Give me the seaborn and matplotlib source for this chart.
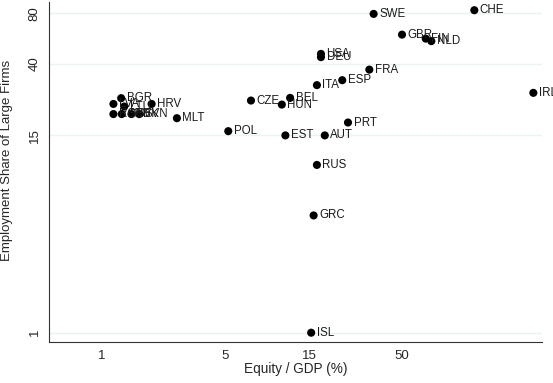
import matplotlib
matplotlib.use("Agg")
import matplotlib.pyplot as plt
import seaborn as sns
import pandas as pd
from matplotlib.ticker import FixedLocator, NullLocator, FixedFormatter

countries = ["SWE", "CHE", "GBR", "FIN", "NLD", "USA", "DEU", "FRA", "ESP", "ITA",
             "IRL", "CZE", "BEL", "HUN", "PRT", "EST", "AUT", "POL", "RUS", "GRC",
             "ISL", "MLT", "HRV", "BGR", "LVA", "LTU", "ROU", "SRB", "SVK", "SVN"]
equity_gdp = [34.8, 129.5, 50.4, 68.7, 73.9, 17.5, 17.5, 32.9, 23.1, 16.6,
              279.8, 7.02, 11.7, 10.5, 24.9, 11.0, 18.4, 5.22, 16.6, 15.9,
              15.4, 2.67, 1.92, 1.29, 1.166, 1.343, 1.166, 1.30, 1.475, 1.634]
large_share = [79.5, 83.6, 59.8, 56.6, 54.7, 45.9, 43.9, 37.0, 32.0, 29.9,
               26.9, 24.2, 25.1, 22.9, 17.9, 15.0, 15.0, 15.9, 10.0, 5.0,
               1.0, 19.0, 23.1, 25.0, 23.1, 22.3, 20.1, 20.1, 20.1, 20.1]

xticks = [1, 5, 15, 50]
yticks = [1, 15, 40, 80]

df = pd.DataFrame({"country": countries, "x": equity_gdp, "y": large_share})

sns.set_style("white")
plt.rcParams["font.family"] = ["Liberation Sans", "DejaVu Sans"]

fig = plt.figure(figsize=(5.53, 3.83), dpi=100)
ax = fig.add_axes([0.0886, 0.107, 0.8914, 0.888])

ax.set_xscale("log")
ax.set_yscale("log")
ax.set_xlim(0.503, 313)
ax.set_ylim(0.88, 93.7)

for t in yticks:
    ax.axhline(t, color="#eaf2f3", lw=1.0, zorder=0)

sns.scatterplot(data=df, x="x", y="y", ax=ax, color="black", s=34,
                edgecolor="none", zorder=3, legend=False)

for c, xv, yv in zip(countries, equity_gdp, large_share):
    ax.annotate(c, (xv, yv), xytext=(4, 0), textcoords="offset points",
                ha="left", va="center", fontsize=8.3, color="#1a1a1a", zorder=4)

ax.xaxis.set_major_locator(FixedLocator(xticks))
ax.xaxis.set_major_formatter(FixedFormatter([str(t) for t in xticks]))
ax.xaxis.set_minor_locator(NullLocator())
ax.yaxis.set_major_locator(FixedLocator(yticks))
ax.yaxis.set_major_formatter(FixedFormatter([str(t) for t in yticks]))
ax.yaxis.set_minor_locator(NullLocator())

ax.tick_params(axis="both", which="major", direction="out", length=4, width=0.8,
               labelsize=9.5, color="#333333", pad=2)
for lab in ax.get_yticklabels():
    lab.set_rotation(90)
    lab.set_va("center")

ax.spines["top"].set_visible(False)
ax.spines["right"].set_visible(False)
for s in ["left", "bottom"]:
    ax.spines[s].set_color("#333333")
    ax.spines[s].set_linewidth(0.8)

ax.set_xlabel("Equity / GDP (%)", fontsize=9.8, labelpad=0)
ax.set_ylabel("Employment Share of Large Firms", fontsize=9.5)
ax.yaxis.set_label_coords(-0.073, 0.535)

fig.savefig("out.png", dpi=100)
